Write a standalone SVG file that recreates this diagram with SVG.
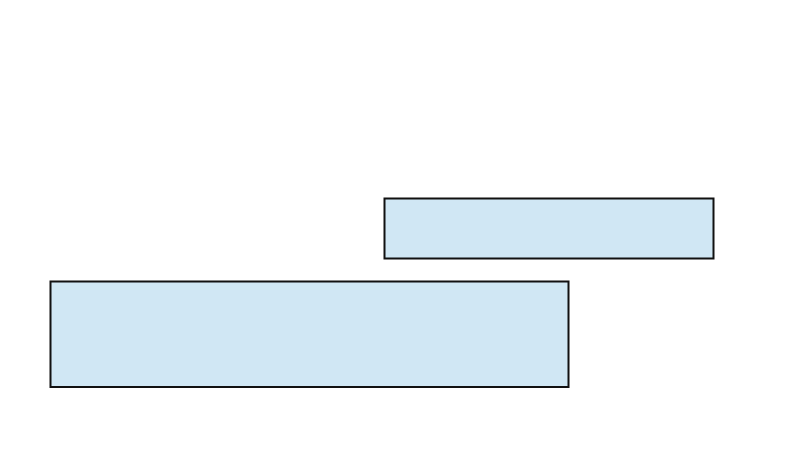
<svg xmlns="http://www.w3.org/2000/svg" width="800" height="474" viewBox="0 0 800 474">
<style>
.box{fill:#d0e7f4;stroke:#111;stroke-width:2}
</style>
<rect width="800" height="474" fill="#fff"/>
<g id="connectors"></g>
<g id="node1"><rect class="box" x="384.5" y="198.5" width="329" height="60"/></g>
<g id="node2"><rect class="box" x="50.5" y="281.5" width="518" height="105.5"/></g>
</svg>
